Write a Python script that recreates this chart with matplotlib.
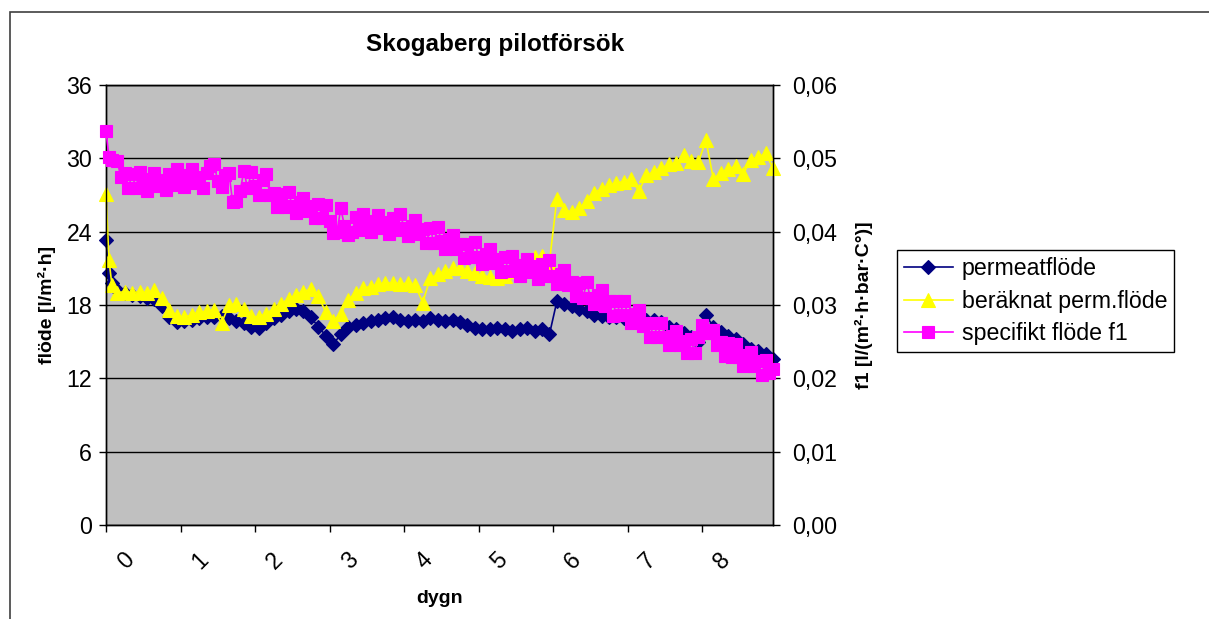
import matplotlib
matplotlib.use("Agg")
import matplotlib.pyplot as plt
from matplotlib.transforms import ScaledTranslation
from matplotlib.patches import Rectangle

plt.rcParams['font.family'] = ['Liberation Sans', 'DejaVu Sans']

# dygn för permeatflöde och beräknat flöde
dygn = [0.0, 0.04, 0.08,
        0.15, 0.25, 0.35, 0.45, 0.55, 0.65, 0.75, 0.85, 0.95, 1.05,
        1.15, 1.25, 1.35, 1.45, 1.55, 1.65, 1.75, 1.85, 1.95, 2.05,
        2.15, 2.25, 2.35, 2.45, 2.55, 2.65, 2.75, 2.85, 2.95, 3.05,
        3.15, 3.25, 3.35, 3.45, 3.55, 3.65, 3.75, 3.85, 3.95, 4.05,
        4.15, 4.25, 4.35, 4.45, 4.55, 4.65, 4.75, 4.85, 4.95, 5.05,
        5.15, 5.25, 5.35, 5.45, 5.55, 5.65, 5.75, 5.85, 5.95, 6.05,
        6.15, 6.25, 6.35, 6.45, 6.55, 6.65, 6.75, 6.85, 6.95, 7.05,
        7.15, 7.25, 7.35, 7.45, 7.55, 7.65, 7.75, 7.85, 7.95, 8.05,
        8.15, 8.25, 8.35, 8.45, 8.55, 8.65, 8.75, 8.85, 8.95]

# permeatflöde [l/m2h]
permeat = [23.3, 20.6, 19.8,
           19.2, 19.0, 18.8, 18.7, 18.6, 18.5, 17.9, 17.0, 16.6, 16.7,
           16.8, 16.9, 17.0, 17.0, 17.1, 16.9, 16.7, 16.5, 16.2, 16.1,
           16.5, 16.9, 17.2, 17.5, 17.7, 17.5, 17.0, 16.2, 15.5, 14.8,
           15.6, 16.2, 16.4, 16.5, 16.7, 16.8, 16.9, 17.0, 16.8, 16.7,
           16.8, 16.7, 16.9, 16.8, 16.7, 16.8, 16.6, 16.4, 16.1, 16.0,
           16.0, 16.1, 16.0, 15.9, 16.0, 16.1, 15.9, 16.0, 15.6, 18.3,
           18.1, 17.9, 17.7, 17.5, 17.2, 17.1, 17.0, 17.0, 16.9, 16.9,
           16.9, 16.8, 16.8, 16.6, 16.2, 16.0, 15.7, 15.4, 15.0, 17.2,
           16.2, 15.8, 15.5, 15.2, 14.8, 14.4, 14.2, 14.0, 13.6]

# beräknat permeatflöde [l/m2h]
beraknat = [27.1, 21.7, 19.6,
            19.0, 19.1, 19.0, 19.1, 19.0, 19.2, 18.6, 17.6, 17.1, 17.0,
            17.2, 17.4, 17.5, 17.6, 16.5, 18.0, 18.1, 17.7, 17.1, 17.0,
            17.3, 17.7, 18.1, 18.5, 18.8, 19.1, 19.3, 18.7, 17.4, 16.7,
            17.3, 18.4, 19.0, 19.4, 19.5, 19.7, 19.8, 19.8, 19.7, 19.8,
            19.6, 18.2, 20.2, 20.5, 20.8, 21.0, 21.0, 20.8, 20.6, 20.4,
            20.3, 20.2, 20.4, 20.8, 21.2, 21.6, 21.9, 22.0, 21.5, 26.7,
            25.8, 25.6, 25.9, 26.5, 27.2, 27.5, 27.8, 28.0, 28.1, 28.3,
            27.3, 28.6, 28.9, 29.2, 29.5, 29.6, 30.3, 29.8, 29.7, 31.5,
            28.3, 28.8, 29.1, 29.4, 28.7, 29.9, 30.1, 30.4, 29.2]

# dygn för specifikt flöde (tätare mätningar)
f1_dygn = [0.0, 0.04, 0.08,
           0.15, 0.20, 0.25, 0.30, 0.35, 0.40, 0.45, 0.50, 0.55, 0.60,
           0.65, 0.70, 0.75, 0.80, 0.85, 0.90, 0.95, 1.00, 1.05, 1.10,
           1.15, 1.20, 1.25, 1.30, 1.35, 1.40, 1.45, 1.50, 1.55, 1.60,
           1.65, 1.70, 1.75, 1.80, 1.85, 1.90, 1.95, 2.00, 2.05, 2.10,
           2.15, 2.20, 2.25, 2.30, 2.35, 2.40, 2.45, 2.50, 2.55, 2.60,
           2.65, 2.70, 2.75, 2.80, 2.85, 2.90, 2.95, 3.00, 3.05, 3.10,
           3.15, 3.20, 3.25, 3.30, 3.35, 3.40, 3.45, 3.50, 3.55, 3.60,
           3.65, 3.70, 3.75, 3.80, 3.85, 3.90, 3.95, 4.00, 4.05, 4.10,
           4.15, 4.20, 4.25, 4.30, 4.35, 4.40, 4.45, 4.50, 4.55, 4.60,
           4.65, 4.70, 4.75, 4.80, 4.85, 4.90, 4.95, 5.00, 5.05, 5.10,
           5.15, 5.20, 5.25, 5.30, 5.35, 5.40, 5.45, 5.50, 5.55, 5.60,
           5.65, 5.70, 5.75, 5.80, 5.85, 5.90, 5.95, 6.00, 6.05, 6.10,
           6.15, 6.20, 6.25, 6.30, 6.35, 6.40, 6.45, 6.50, 6.55, 6.60,
           6.65, 6.70, 6.75, 6.80, 6.85, 6.90, 6.95, 7.00, 7.05, 7.10,
           7.15, 7.20, 7.25, 7.30, 7.35, 7.40, 7.45, 7.50, 7.55, 7.60,
           7.65, 7.70, 7.75, 7.80, 7.85, 7.90, 7.95, 8.00, 8.05, 8.10,
           8.15, 8.20, 8.25, 8.30, 8.35, 8.40, 8.45, 8.50, 8.55, 8.60,
           8.65, 8.70, 8.75, 8.80, 8.85, 8.90, 8.95]

# specifikt flöde f1 [l/(m2 h bar C)]
specifikt = [0.0537, 0.0502, 0.0498,
             0.0496, 0.0475, 0.0480, 0.0460, 0.0478, 0.0460, 0.0481, 0.0464, 0.0456, 0.0472,
             0.0480, 0.0462, 0.0471, 0.0457, 0.0478, 0.0464, 0.0486, 0.0469, 0.0461, 0.0477,
             0.0485, 0.0467, 0.0475, 0.0459, 0.0480, 0.0490, 0.0492, 0.0469, 0.0461, 0.0477,
             0.0480, 0.0440, 0.0442, 0.0455, 0.0483, 0.0459, 0.0481, 0.0462, 0.0450, 0.0470,
             0.0478, 0.0450, 0.0453, 0.0434, 0.0451, 0.0434, 0.0454, 0.0435, 0.0426, 0.0440,
             0.0446, 0.0428, 0.0435, 0.0419, 0.0438, 0.0419, 0.0436, 0.0415, 0.0398, 0.0400,
             0.0432, 0.0408, 0.0395, 0.0399, 0.0420, 0.0402, 0.0424, 0.0407, 0.0399, 0.0415,
             0.0423, 0.0405, 0.0413, 0.0397, 0.0418, 0.0402, 0.0424, 0.0405, 0.0394, 0.0408,
             0.0416, 0.0397, 0.0403, 0.0385, 0.0405, 0.0385, 0.0406, 0.0387, 0.0376, 0.0390,
             0.0396, 0.0377, 0.0383, 0.0364, 0.0383, 0.0365, 0.0386, 0.0365, 0.0356, 0.0370,
             0.0376, 0.0357, 0.0363, 0.0345, 0.0365, 0.0347, 0.0367, 0.0349, 0.0339, 0.0355,
             0.0363, 0.0345, 0.0353, 0.0335, 0.0356, 0.0339, 0.0361, 0.0340, 0.0329, 0.0342,
             0.0348, 0.0327, 0.0331, 0.0312, 0.0330, 0.0310, 0.0331, 0.0310, 0.0301, 0.0313,
             0.0320, 0.0298, 0.0305, 0.0285, 0.0305, 0.0287, 0.0306, 0.0287, 0.0276, 0.0288,
             0.0293, 0.0272, 0.0276, 0.0257, 0.0275, 0.0257, 0.0276, 0.0257, 0.0246, 0.0258,
             0.0265, 0.0245, 0.0251, 0.0234, 0.0253, 0.0235, 0.0257, 0.0273, 0.0262, 0.0262,
             0.0266, 0.0245, 0.0250, 0.0230, 0.0248, 0.0229, 0.0247, 0.0229, 0.0217, 0.0232,
             0.0236, 0.0217, 0.0223, 0.0205, 0.0225, 0.0207, 0.0213]

x_ticks = [0, 1, 2, 3, 4, 5, 6, 7, 8]
y_left = [0, 6, 12, 18, 24, 30, 36]
y_right = [0.0, 0.01, 0.02, 0.03, 0.04, 0.05, 0.06]
y_right_labels = ['0,00', '0,01', '0,02', '0,03', '0,04', '0,05', '0,06']

W, H = 1209, 619
fs = 16.7

fig = plt.figure(figsize=(W / 100, H / 100), dpi=100)
ax = fig.add_axes([106 / W, 1 - 525 / H, 667 / W, 440 / H])
ax.set_facecolor('#C0C0C0')
ax2 = ax.twinx()

l1, = ax.plot(dygn, permeat, color='#000080', lw=1.2, marker='D', ms=7.5,
              mfc='#000080', mec='#000080', mew=0.8, clip_on=False,
              label='permeatflöde', zorder=3)
l2, = ax.plot(dygn, beraknat, color='#FFFF00', lw=1.2, marker='^', ms=10.5,
              mfc='#FFFF00', mec='#FFFF00', mew=0.8, clip_on=False,
              label='beräknat perm.flöde', zorder=4)
l3, = ax2.plot(f1_dygn, specifikt, color='#FF00FF', lw=1.2, marker='s', ms=9,
               mfc='#FF00FF', mec='#FF00FF', mew=0.8, clip_on=False,
               label='specifikt flöde f1', zorder=3)

ax.set_xlim(0, 8.95)
ax.set_ylim(0, 36)
ax2.set_ylim(0, 0.06)
ax.set_yticks(y_left)
ax2.set_yticks(y_right)
ax2.set_yticklabels(y_right_labels)
ax.set_xticks(x_ticks)
ax.set_xticklabels([str(v) for v in x_ticks], rotation=45)

ax.yaxis.grid(True, color='black', lw=1)
ax.set_axisbelow(True)

for a in (ax, ax2):
    for s in a.spines.values():
        s.set_color('black')
        s.set_linewidth(1)

ax.tick_params(axis='y', direction='out', length=5, width=1, labelsize=fs, pad=5)
ax.tick_params(axis='x', direction='out', length=5, width=1, labelsize=fs, pad=12)
ax2.tick_params(axis='y', direction='out', length=5, width=1, labelsize=fs, pad=9)

# flytta x-etiketterna lite åt höger som i Excel
offset = ScaledTranslation(0.2, 0, fig.dpi_scale_trans)
for lab in ax.get_xticklabels():
    lab.set_transform(lab.get_transform() + offset)

ax.set_xlabel('dygn', fontsize=14, fontweight='bold')
ax.xaxis.set_label_coords(0.5, (525 - 590) / 440)
ax.set_ylabel('flöde [l/m²·h]', fontsize=14, fontweight='bold')
ax.yaxis.set_label_coords((56 - 106) / 667, 0.5)
ax2.set_ylabel('f1 [l/(m²·h·bar·C°)]', fontsize=14, fontweight='bold')
ax2.yaxis.set_label_coords((855 - 106) / 667, 0.5)

fig.text(495 / W, 1 - 45 / H, 'Skogaberg pilotförsök', ha='center', va='center',
         fontsize=17.5, fontweight='bold')

leg = fig.legend([l1, l2, l3], [l1.get_label(), l2.get_label(), l3.get_label()],
                 loc='upper left', bbox_to_anchor=(897 / W, 1 - 250 / H),
                 borderaxespad=0, fancybox=False, edgecolor='black', framealpha=1,
                 fontsize=fs, handlelength=2.1, labelspacing=0.42, borderpad=0.3,
                 handletextpad=0.4, numpoints=1)
leg.get_frame().set_linewidth(1)

# ramen runt diagramytan
fig.add_artist(Rectangle((10 / W, -1), 5, 2 - 12 / H, transform=fig.transFigure,
                         fill=False, edgecolor='#404040', lw=1.2))

fig.savefig('out.png', dpi=100)
